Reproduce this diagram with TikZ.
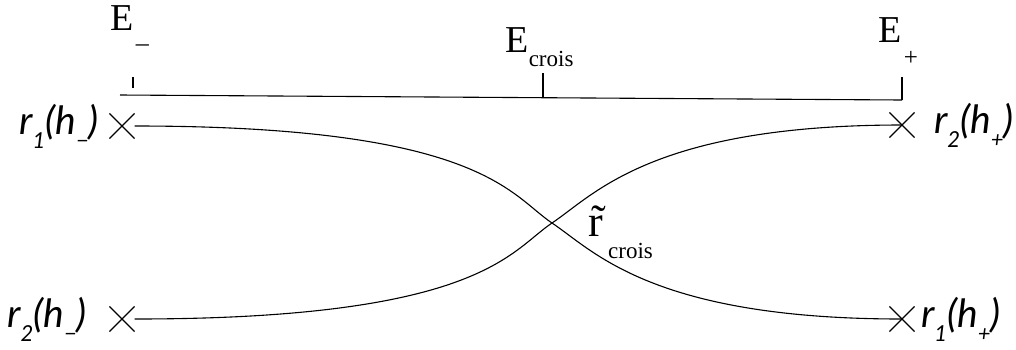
\documentclass[tikz,border=0pt]{standalone}
\usepackage{fontspec}
\setmainfont{Liberation Serif}
\newfontfamily\lblfont{Lato}
\usetikzlibrary{positioning,shapes.misc}
\newcommand\lowsub[1]{\raisebox{-14pt}{\fontsize{22}{22}\selectfont #1}}

\begin{document}
\begin{tikzpicture}[x=1pt,y=-1pt,line width=1.1pt,
  node distance=10pt,
  crossmark/.style={draw,cross out,minimum size=24pt,inner sep=0pt},
  lbl/.style={inner sep=0pt,font=\lblfont\itshape\fontsize{39}{42}\selectfont},
  elbl/.style={inner sep=0pt,anchor=base west,font=\fontsize{38}{40}\selectfont}
]
\useasboundingbox (0,0) rectangle (1016,349);
\coordinate (eL) at (120,95);
\coordinate (eR) at (902,100);
\coordinate (emid) at (543,96.5);
\coordinate (tL) at (133,88);
\coordinate (xc) at (552,223);
\node[crossmark] (ltop) at (122,126) {};
\node[crossmark] (lbot) at (122,319) {};
\node[crossmark] (rtop) at (902,125) {};
\node[crossmark] (rbot) at (902,319) {};
\node[lbl,left=of ltop] (lbltop) {r\lowsub{1}(h\lowsub{−})};
\node[lbl,left=22pt of lbot] (lblbot) {r\lowsub{2}(h\lowsub{−})};
\node[lbl,right=19pt of rtop] (rbltop) {r\lowsub{2}(h\lowsub{+})};
\node[lbl,right=6pt of rbot] (rblbot) {r\lowsub{1}(h\lowsub{+})};
\node[elbl] (eminus) at (110,30) {E\kern2pt\raisebox{-21pt}{\fontsize{26}{26}\selectfont –}};
\node[elbl] (ecrois) at (505,52) {E\raisebox{-14pt}{\fontsize{23}{23}\selectfont crois}};
\node[elbl] (eplus) at (878,42) {E\kern2pt\raisebox{-23pt}{\fontsize{25}{25}\selectfont +}};
\node[elbl,font=\fontsize{44}{46}\selectfont] (rcrois) at (588,236) {\~r\kern5pt\raisebox{-22pt}{\fontsize{23}{23}\selectfont crois}};
\draw (eL) -- (eR);
\draw (eR) -- ++(0,-23);
\draw (emid) -- ++(0,-24);
\draw (tL) -- ++(0,-11);
\draw (ltop.east) .. controls +(346,0) and +(-42,-28) .. (xc) .. controls +(42,28) and +(-250,0) .. (rbot.center);
\draw (lbot.east) .. controls +(346,0) and +(-42,28) .. (xc) .. controls +(42,-28) and +(-250,0) .. (rtop.center);
\end{tikzpicture}
\end{document}
